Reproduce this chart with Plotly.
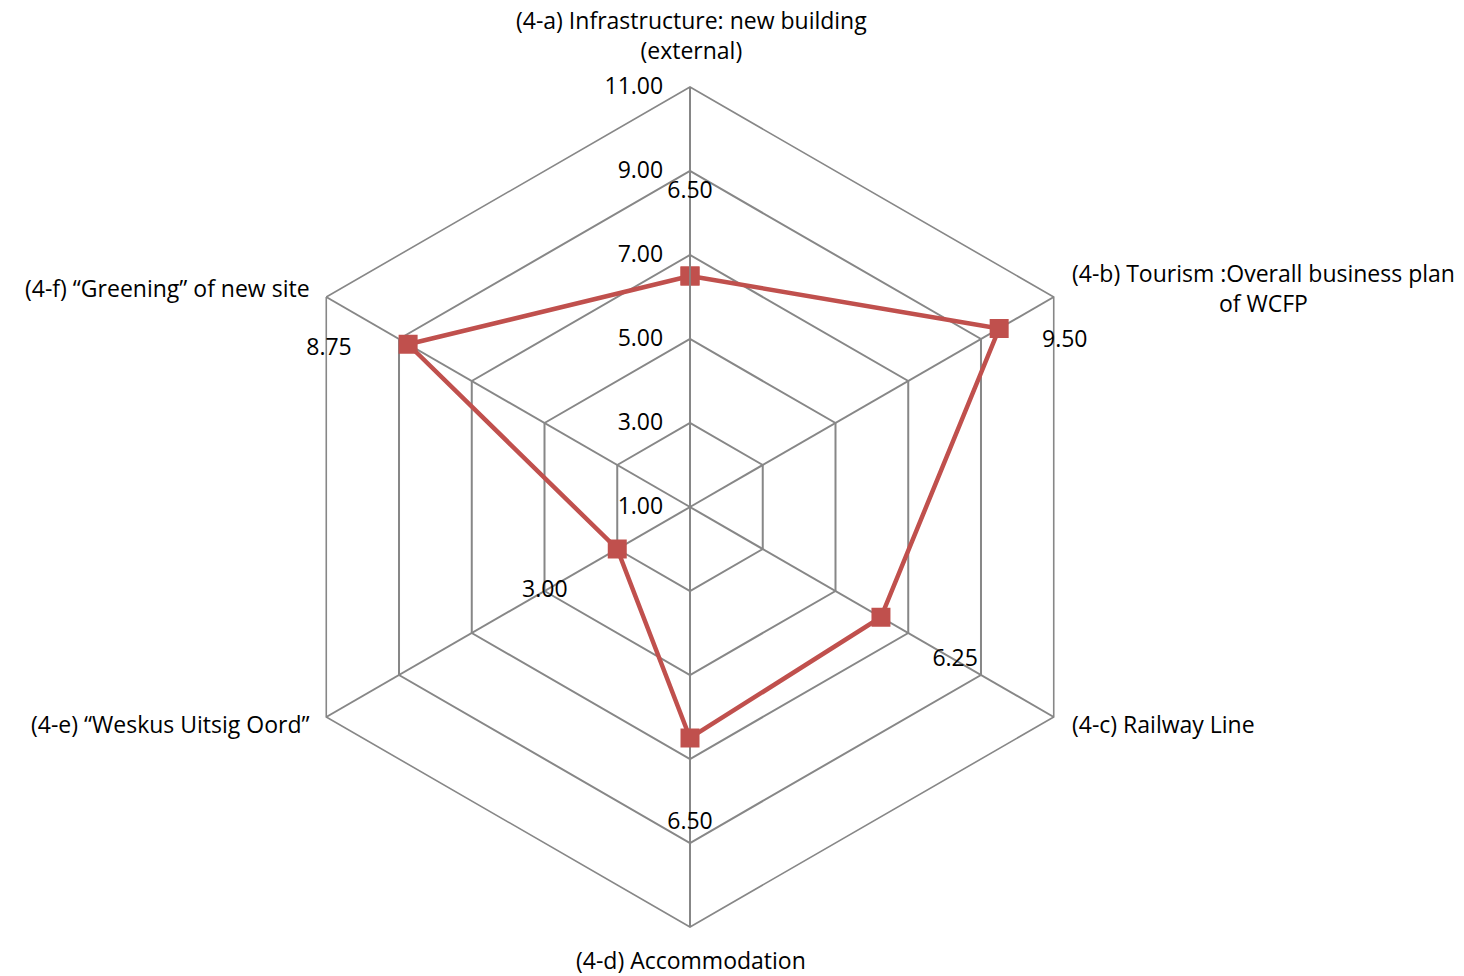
import plotly.graph_objects as go

# Assessment categories and their scores
categories = [
    "(4-a) Infrastructure: new building<br>(external)",
    "(4-b) Tourism :Overall business plan<br>of WCFP",
    "(4-c) Railway Line",
    "(4-d) Accommodation",
    "(4-e) \u201cWeskus Uitsig Oord\u201d",
    "(4-f) \u201cGreening\u201d of new site",
]
scores = [6.50, 9.50, 6.25, 6.50, 3.00, 8.75]
radial_ticks = [1, 3, 5, 7, 9, 11]

FONT = "Open Sans"
FS = 23
GRID = "#878787"
RED = "#C0504D"

n = len(categories)
theta_deg = [i * 360 / n for i in range(n)]

# value-label placement (outward shift along the spoke, small angular nudge)
label_dr = [2.0, 1.26, 2.04, 2.02, 1.99, 1.63]
label_dt = [0, 6.1, 0, 0, 0, -6.4]

DOMAIN = dict(x=[270 / 1464, 1110 / 1464], y=[49 / 976, 889 / 976])

fig = go.Figure()

fig.add_trace(go.Scatterpolar(
    r=scores + scores[:1],
    theta=categories + categories[:1],
    mode="lines+markers",
    line=dict(color=RED, width=4.5),
    marker=dict(symbol="square", size=19, color=RED),
    showlegend=False,
    hoverinfo="skip",
    subplot="polar",
))

# value labels live on an invisible twin polar with a numeric angle scale
fig.add_trace(go.Scatterpolar(
    r=[v + d for v, d in zip(scores, label_dr)],
    theta=[t + d for t, d in zip(theta_deg, label_dt)],
    mode="text",
    text=[f"{v:.2f}" for v in scores],
    textposition="middle center",
    textfont=dict(family=FONT, size=FS, color="black"),
    showlegend=False,
    hoverinfo="skip",
    cliponaxis=False,
    subplot="polar2",
))

fig.update_layout(
    width=1464,
    height=976,
    margin=dict(l=0, r=0, t=0, b=0),
    paper_bgcolor="white",
    plot_bgcolor="white",
    font=dict(family=FONT, size=FS, color="black"),
    polar=dict(
        domain=DOMAIN,
        gridshape="linear",
        bgcolor="white",
        angularaxis=dict(
            type="category",
            categoryorder="array",
            categoryarray=categories,
            rotation=90,
            direction="clockwise",
            showticklabels=False,
            ticks="",
            showline=True,
            linecolor=GRID,
            linewidth=1.6,
            gridcolor=GRID,
            gridwidth=1.6,
        ),
        radialaxis=dict(
            range=[1, 11],
            tickmode="array",
            tickvals=radial_ticks,
            tickformat=".2f",
            angle=90,
            tickangle=90,
            side="counterclockwise",
            showline=True,
            linecolor=GRID,
            linewidth=1.6,
            gridcolor=GRID,
            gridwidth=1.6,
            ticks="outside",
            ticklen=18,
            tickcolor="rgba(0,0,0,0)",
            tickfont=dict(family=FONT, size=FS, color="black"),
        ),
    ),
    polar2=dict(
        domain=DOMAIN,
        bgcolor="rgba(0,0,0,0)",
        angularaxis=dict(rotation=90, direction="clockwise", visible=False),
        radialaxis=dict(range=[1, 11], visible=False),
    ),
)

# category captions around the outer ring
captions = [
    dict(x=691, y=35, xanchor="center", align="center"),
    dict(x=1263, y=288, xanchor="center", align="center"),
    dict(x=1070, y=724, xanchor="left", align="left"),
    dict(x=691, y=960, xanchor="center", align="center"),
    dict(x=311, y=724, xanchor="right", align="right"),
    dict(x=312, y=288, xanchor="right", align="right"),
]
for cat, pos in zip(categories, captions):
    fig.add_annotation(
        text=cat,
        x=pos["x"] / 1464,
        y=1 - pos["y"] / 976,
        xref="paper",
        yref="paper",
        xanchor=pos["xanchor"],
        yanchor="middle",
        align=pos["align"],
        showarrow=False,
        font=dict(family=FONT, size=FS, color="black"),
    )

fig.write_html("out.html")
